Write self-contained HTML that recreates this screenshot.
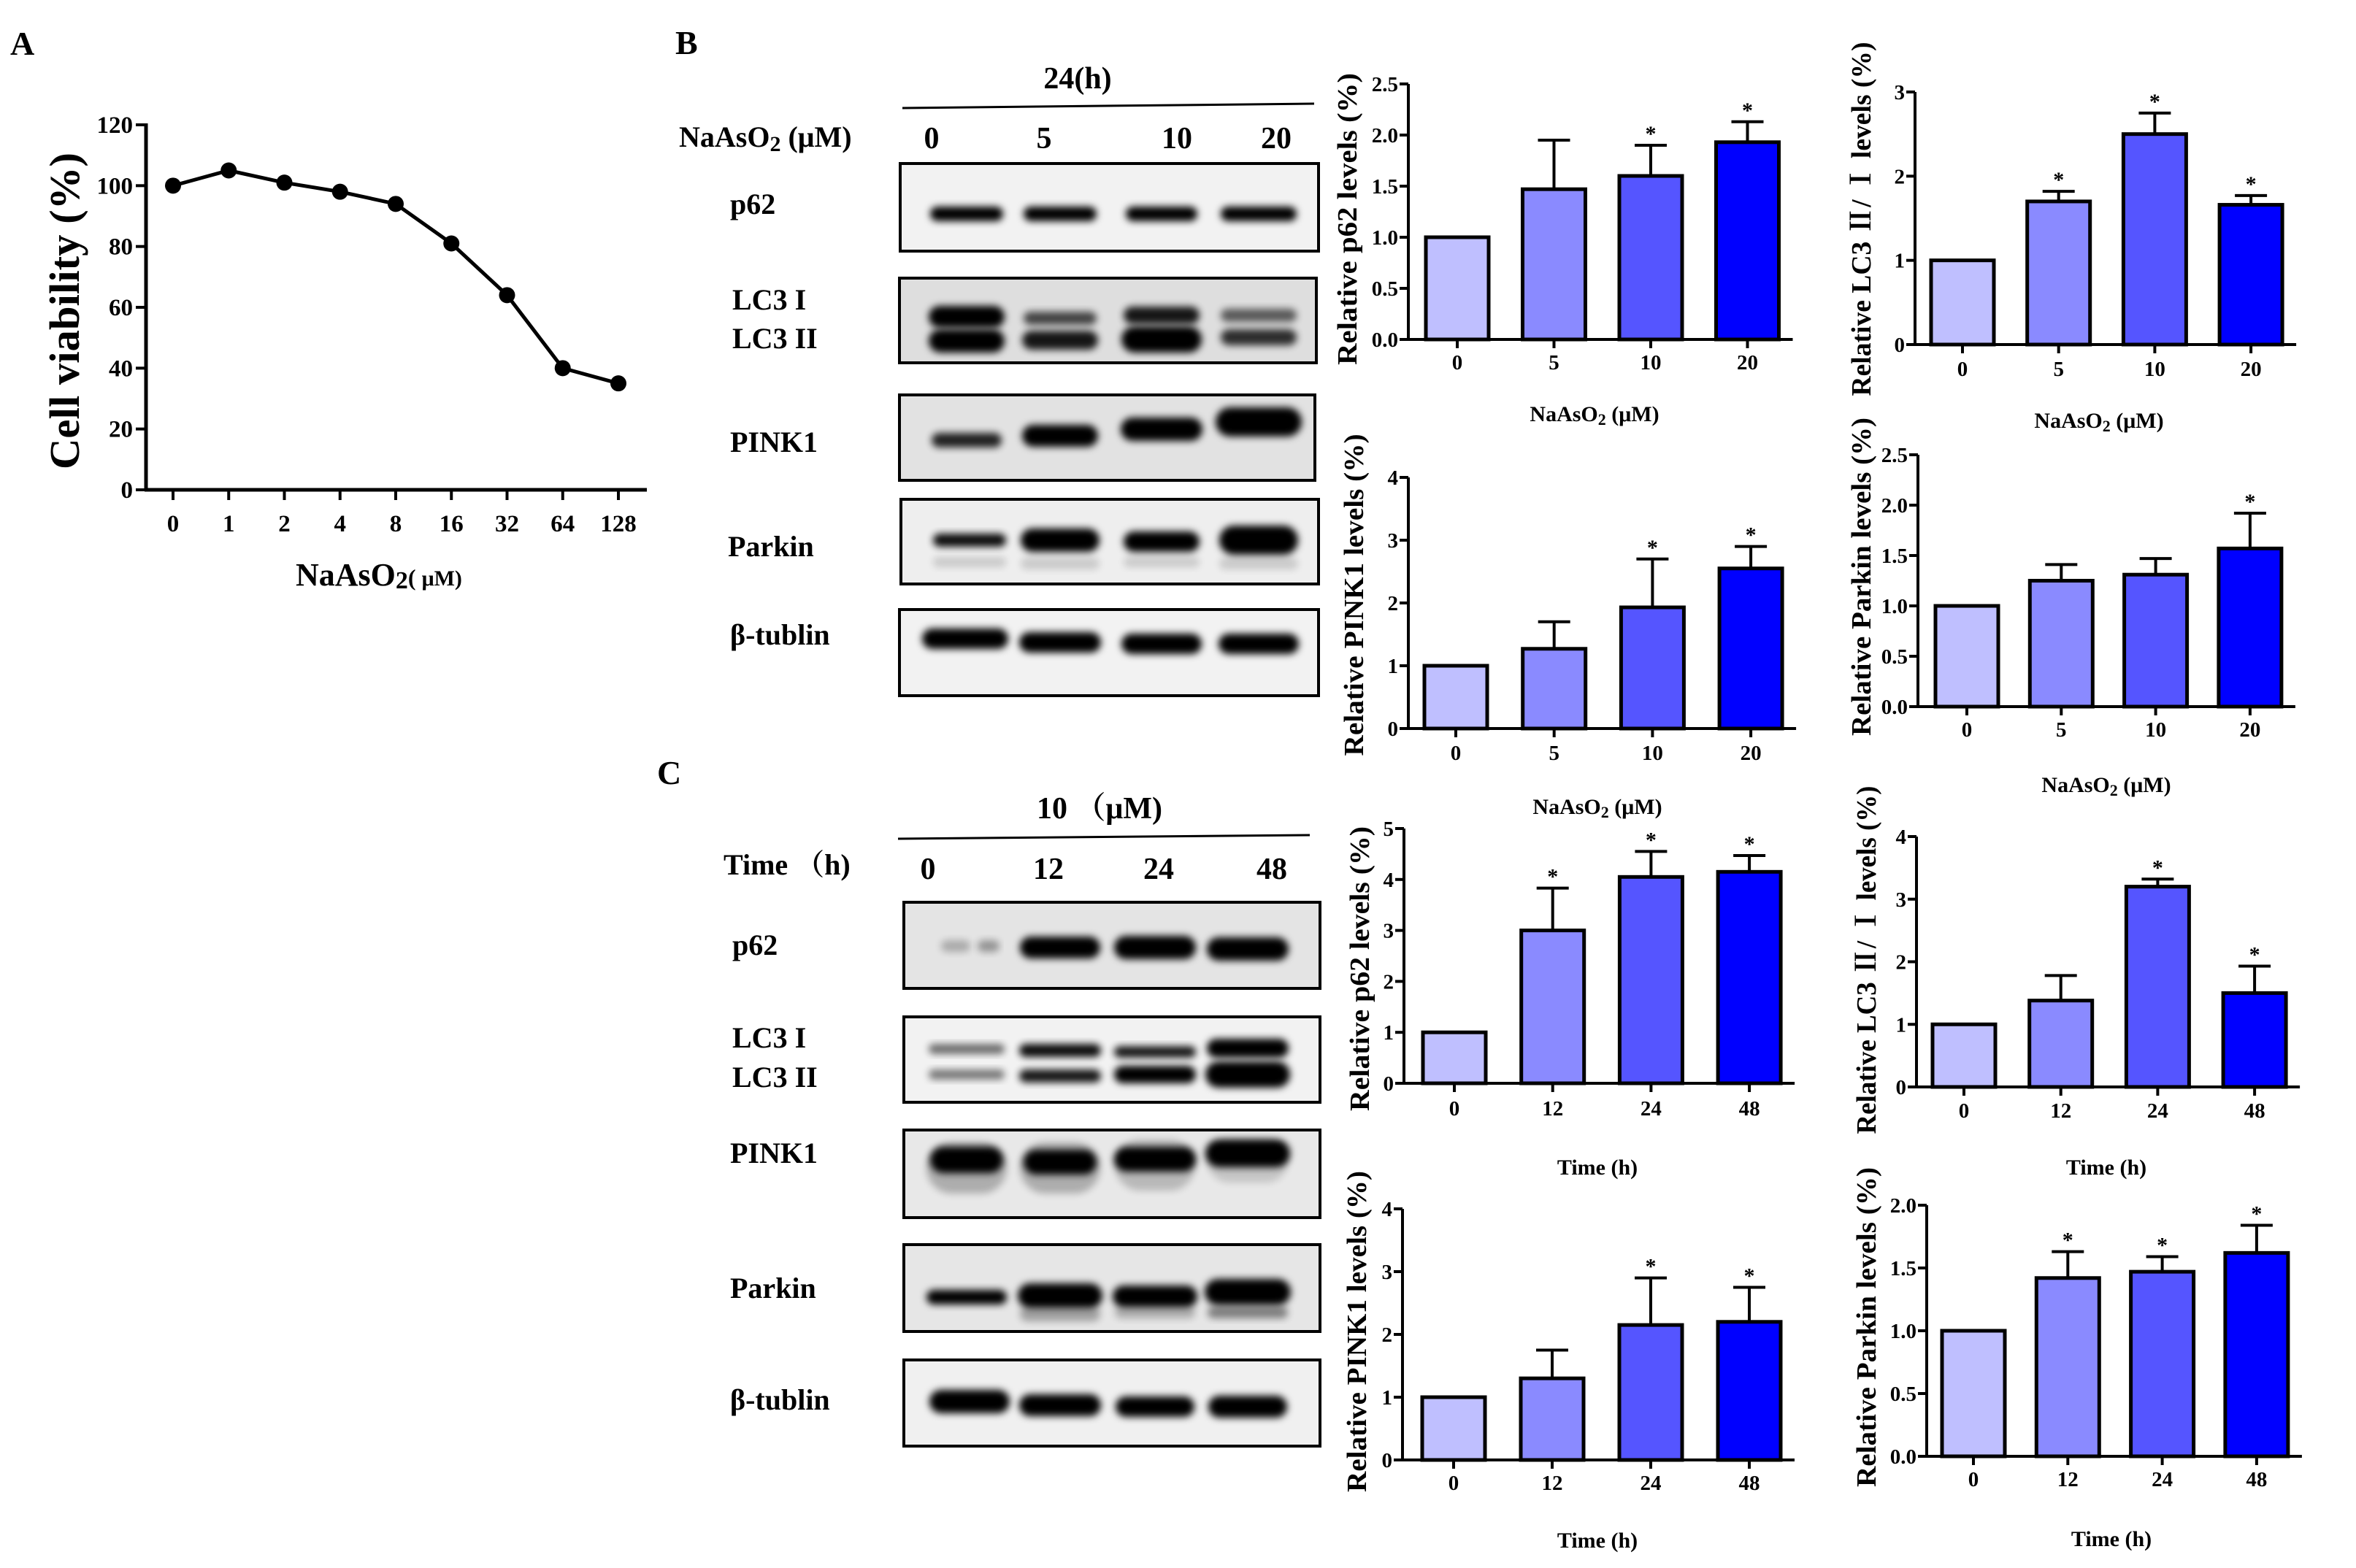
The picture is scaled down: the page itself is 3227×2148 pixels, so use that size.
<!DOCTYPE html>
<html><head><meta charset="utf-8">
<style>
html,body{margin:0;padding:0;background:#fff;}
svg{display:block;}
text{font-family:"Liberation Serif","Noto Serif CJK SC",serif;font-weight:bold;fill:#000;}
</style></head>
<body>
<svg id="fig" xmlns="http://www.w3.org/2000/svg" width="3227" height="2148" viewBox="0 0 3227 2148">
<defs>
<filter id="blur" x="-20%" y="-50%" width="140%" height="200%"><feGaussianBlur stdDeviation="5"/></filter>
<filter id="blur2" x="-20%" y="-80%" width="140%" height="260%"><feGaussianBlur stdDeviation="9"/></filter>
</defs>
<rect width="3227" height="2148" fill="#fff"/>
<text x="14" y="75" font-size="46">A</text>
<text x="925" y="74" font-size="46">B</text>
<text x="900" y="1074" font-size="46">C</text>
<g id="panelA"></g>
<g id="blots"></g>
<g id="bars"></g>
</svg>
<script>
// ---------- Panel A data ----------
const viabCats = ['0','1','2','4','8','16','32','64','128'];
const viabValues = [100,105,101,98,94,81,64,40,35];
const viabTicks = [0,20,40,60,80,100,120];

// ---------- Bar chart data ----------
const doseCats = ['0','5','10','20'];
const timeCats = ['0','12','24','48'];
const bP62Vals = [1.0,1.47,1.6,1.93];
const bP62Err  = [1.0,1.95,1.9,2.13];
const bP62Sig  = [0,0,1,1];
const bLc3Vals = [1.0,1.7,2.5,1.66];
const bLc3Err  = [1.0,1.82,2.75,1.77];
const bLc3Sig  = [0,1,1,1];
const bPinkVals = [1.0,1.27,1.93,2.55];
const bPinkErr  = [1.0,1.7,2.7,2.9];
const bPinkSig  = [0,0,1,1];
const bParkVals = [1.0,1.25,1.31,1.57];
const bParkErr  = [1.0,1.41,1.47,1.92];
const bParkSig  = [0,0,0,1];
const cP62Vals = [1.0,3.0,4.05,4.15];
const cP62Err  = [1.0,3.83,4.55,4.47];
const cP62Sig  = [0,1,1,1];
const cLc3Vals = [1.0,1.38,3.2,1.5];
const cLc3Err  = [1.0,1.78,3.32,1.93];
const cLc3Sig  = [0,0,1,1];
const cPinkVals = [1.0,1.3,2.15,2.2];
const cPinkErr  = [1.0,1.75,2.9,2.75];
const cPinkSig  = [0,0,1,1];
const cParkVals = [1.0,1.42,1.47,1.62];
const cParkErr  = [1.0,1.63,1.59,1.84];
const cParkSig  = [0,1,1,1];
const ticks25 = ['0.0','0.5','1.0','1.5','2.0','2.5'];
const ticks3 = ['0','1','2','3'];
const ticks4 = ['0','1','2','3','4'];
const ticks5 = ['0','1','2','3','4','5'];
const ticks20 = ['0.0','0.5','1.0','1.5','2.0'];

const NS = 'http://www.w3.org/2000/svg';
function mk(tag, attrs, parent, txt){
  const e = document.createElementNS(NS, tag);
  for (const k in attrs) e.setAttribute(k, attrs[k]);
  if (txt !== undefined) e.textContent = txt;
  parent.appendChild(e);
  return e;
}

// ---------- Panel A ----------
(function(){
  const g = document.getElementById('panelA');
  const axX = 200, yBot = 671, yTop = 171, vMax = 120;
  const xFirst = 237, xStep = 76.25;
  const yS = v => yBot - (v / vMax) * (yBot - yTop);
  const xS = i => xFirst + i * xStep;
  let e = mk('line',{x1:axX,y1:yTop-2,x2:axX,y2:yBot+2,stroke:'#000','stroke-width':5},g);
  
  
  e = mk('line',{x1:axX-2,y1:yBot,x2:886,y2:yBot,stroke:'#000','stroke-width':5},g);
  
  
  viabTicks.forEach(t=>{
    const y = yS(t);
    mk('line',{x1:axX-14,y1:y,x2:axX,y2:y,stroke:'#000','stroke-width':4},g);
    const tx = mk('text',{x:axX-18,y:y+11,'font-size':33,'text-anchor':'end'},g,String(t));
    
    
  });
  viabCats.forEach((c,i)=>{
    const x = xS(i);
    mk('line',{x1:x,y1:yBot,x2:x,y2:yBot+14,stroke:'#000','stroke-width':4},g);
    const tx = mk('text',{x:x,y:728,'font-size':33,'text-anchor':'middle'},g,c);
    
    
  });
  let d = '';
  viabValues.forEach((v,i)=>{ d += (i?'L':'M') + xS(i) + ' ' + yS(v) + ' '; });
  e = mk('path',{d:d,fill:'none',stroke:'#000','stroke-width':5},g);
  
  
  viabValues.forEach((v,i)=>{
    const c = mk('circle',{cx:xS(i),cy:yS(v),r:11,fill:'#000'},g);
    
    
  });
  e = mk('text',{x:0,y:0,'font-size':58,'text-anchor':'middle',transform:'translate(108,426) rotate(-90)',textLength:434,lengthAdjust:'spacingAndGlyphs'},g,'Cell viability (%)');
  
  
  e = mk('text',{x:405,y:802,'font-size':44},g);
  
  
  e.innerHTML = 'NaAsO<tspan font-size="34" dy="4">2</tspan><tspan dy="-4" font-size="32">( </tspan><tspan font-size="30">μM)</tspan>';
})();

// ---------- Western blots ----------
(function(){
  const g = document.getElementById('blots');
  function header(title, titleX, titleY, line, rowLabel, rowX, rowY, lanes, laneXs, laneY){
    let e = mk('text',{x:titleX,y:titleY,'font-size':42,'text-anchor':'middle'},g);
    e.innerHTML = title;
    
    
    mk('line',{x1:line[0],y1:line[1],x2:line[2],y2:line[3],stroke:'#000','stroke-width':3},g);
    e = mk('text',{x:rowX,y:rowY,'font-size':40},g);
    e.innerHTML = rowLabel;
    
    
    lanes.forEach((l,i)=>{
      const t = mk('text',{x:laneXs[i],y:laneY,'font-size':42,'text-anchor':'middle'},g,l);
      
      
    });
  }
  header('24(h)',1476,121,[1236,148,1800,142],'NaAsO<tspan font-size="30" dy="6">2</tspan><tspan dy="-6"> (μM)</tspan>',930,201,['0','5','10','20'],[1276,1430,1612,1748],203);
  header('10 （μM)',1506,1121,[1230,1149,1794,1144],'Time （h)',991,1198,['0','12','24','48'],[1271,1436,1587,1742],1204);

  function blot(name, label, labels, box, bg, bands){
    const gg = mk('g',{},g);
    
    
    mk('rect',{x:box[0],y:box[1],width:box[2]-box[0],height:box[3]-box[1],fill:bg},gg);
    bands.forEach(b=>{
      mk('rect',{x:b[0]-b[2]/2,y:b[1]-b[3]/2,width:b[2],height:b[3],rx:b[3]/2,fill:'#000',opacity:b[4],filter:'url(#blur)'},gg);
    });
    mk('rect',{x:box[0],y:box[1],width:box[2]-box[0],height:box[3]-box[1],fill:'none',stroke:'#000','stroke-width':4},gg);
    labels.forEach(l=>{
      const t = mk('text',{x:l[0],y:l[1],'font-size':40},gg,l[2]);
      
      
    });
  }
  const bl = [1324,1452,1591,1724];
  blot('blot-b-p62','p62',[[1000,293,'p62']],[1233,224,1806,344],'#f2f2f2',
    bl.map((x,i)=>[x,293,[100,100,98,104][i],20,1]));
  blot('blot-b-lc3','LC3',[[1003,424,'LC3 I'],[1003,477,'LC3 II']],[1232,381,1803,497],'#dedede',
    [[bl[0],434,104,30,1],[bl[1],436,100,18,0.7],[bl[2],432,104,24,0.9],[bl[3],432,104,18,0.6],
     [bl[0],467,104,32,1],[bl[1],466,104,26,0.9],[bl[2],465,110,36,1],[bl[3],462,104,22,0.8]]);
  blot('blot-b-pink1','PINK1',[[1000,619,'PINK1']],[1232,541,1801,658],'#e2e2e2',
    [[bl[0],603,96,20,0.85],[bl[1],597,104,30,1],[bl[2],588,112,32,1],[bl[3],578,118,40,1]]);
  blot('blot-b-parkin','Parkin',[[997,762,'Parkin']],[1234,684,1806,800],'#eeeeee',
    [[bl[0]+4,740,100,18,0.95],[bl[1],740,108,32,1],[bl[2],742,104,28,1],[bl[3],740,108,40,1],
     [bl[0]+4,770,100,14,0.15],[bl[1],772,108,16,0.15],[bl[2],770,104,14,0.15],[bl[3],772,108,16,0.15]]);
  blot('blot-b-tubulin','β-tublin',[[1000,883,'β-tublin']],[1232,835,1806,953],'#f2f2f2',
    bl.map((x,i)=>[x+[-2,0,0,0][i],[875,880,882,882][i],[118,112,110,110][i],28,1]));

  const cl = [1324,1452,1582,1709];
  blot('blot-c-p62','p62',[[1003,1308,'p62']],[1238,1236,1808,1354],'#e4e4e4',
    [[cl[0]-15,1296,40,16,0.25],[cl[0]+30,1296,30,16,0.35],[cl[1],1298,110,30,1],[cl[2],1298,112,32,1],[cl[3],1300,112,32,1]]);
  blot('blot-c-lc3','LC3',[[1003,1435,'LC3 I'],[1003,1489,'LC3 II']],[1238,1393,1808,1510],'#f2f2f2',
    [[cl[0],1437,104,14,0.55],[cl[1],1439,112,18,0.95],[cl[2],1441,112,16,0.9],[cl[3],1436,112,26,1],
     [cl[0],1472,104,14,0.5],[cl[1],1474,112,18,0.9],[cl[2],1472,112,24,1],[cl[3],1472,116,36,1]]);
  blot('blot-c-pink1','PINK1',[[1000,1593,'PINK1']],[1238,1548,1808,1668],'#e8e8e8',
    [[cl[0],1589,100,36,1],[cl[1],1592,100,34,1],[cl[2],1588,112,34,1],[cl[3],1580,116,38,1],
     [cl[0],1600,110,70,0.25],[cl[1],1600,110,70,0.25],[cl[2],1596,110,70,0.2],[cl[3],1590,110,60,0.15]]);
  blot('blot-c-parkin','Parkin',[[1000,1778,'Parkin']],[1238,1705,1808,1824],'#e6e6e6',
    [[cl[0],1777,110,20,1],[cl[1],1775,116,34,1],[cl[2],1776,116,30,1],[cl[3],1770,118,36,1],
     [cl[1],1800,110,20,0.3],[cl[2],1798,110,16,0.25],[cl[3],1798,110,16,0.45]]);
  blot('blot-c-tubulin','β-tublin',[[1000,1931,'β-tublin']],[1238,1863,1808,1981],'#f0f0f0',
    [[cl[0]+4,1920,110,32,1],[cl[1],1925,112,30,1],[cl[2],1927,108,28,1],[cl[3],1927,108,30,1]]);
})();

// ---------- Bar charts ----------
const barColors = ['#bfbfff','#8a8aff','#5555ff','#0000ff'];
function barChart(o, cats, vals, errs, sig, tickLabels){
  const g = mk('g',{},document.getElementById('bars'));
  
  
  const vMax = parseFloat(tickLabels[tickLabels.length-1]);
  const yS = v => o.yBot - (v / vMax) * (o.yBot - o.yTop);
  const xS = i => o.x0 + i * o.dx;
  const bw = 86;
  tickLabels.forEach(t=>{
    const y = yS(parseFloat(t));
    mk('line',{x1:o.axX-12,y1:y,x2:o.axX,y2:y,stroke:'#000','stroke-width':4},g);
    const tx = mk('text',{x:o.axX-14,y:y+10,'font-size':29,'text-anchor':'end'},g,t);
    
    
  });
  vals.forEach((v,i)=>{
    const x = xS(i), top = yS(v), et = yS(errs[i]);
    if (errs[i] > v) {
      mk('line',{x1:x,y1:top,x2:x,y2:et,stroke:'#000','stroke-width':4},g);
      mk('line',{x1:x-22,y1:et,x2:x+22,y2:et,stroke:'#000','stroke-width':4},g);
    }
    const r = mk('rect',{x:x-bw/2,y:top,width:bw,height:o.yBot-top,fill:barColors[i],stroke:'#000','stroke-width':5},g);
    
    
    if (sig[i]) {
      const s = mk('text',{x:x,y:et-6,'font-size':30,'text-anchor':'middle'},g,'*');
      
      
    }
    mk('line',{x1:x,y1:o.yBot,x2:x,y2:o.yBot+12,stroke:'#000','stroke-width':4},g);
    const tx = mk('text',{x:x,y:o.labY,'font-size':29,'text-anchor':'middle'},g,cats[i]);
    
    
  });
  let e = mk('line',{x1:o.axX,y1:o.yTop,x2:o.axX,y2:o.yBot+2,stroke:'#000','stroke-width':4},g);
  
  
  e = mk('line',{x1:o.axX-10,y1:o.yBot,x2:xS(3)+62,y2:o.yBot,stroke:'#000','stroke-width':4},g);
  
  
  e = mk('text',{x:0,y:0,'font-size':38,'text-anchor':'middle',transform:'translate('+(o.ytX+13)+','+o.ytY+') rotate(-90)',textLength:o.ytLen,lengthAdjust:'spacingAndGlyphs'},g,o.ytitle);
  
  
  e = mk('text',{x:o.tX,y:o.tY,'font-size':30,'text-anchor':'middle'},g);
  
  
  e.innerHTML = o.xtitle;
}
const naTitle = 'NaAsO<tspan font-size="22" dy="5">2</tspan><tspan dy="-5"> (μM)</tspan>';
barChart({name:'chart-b-p62',axX:1929,yBot:465,yTop:115,x0:1996,dx:132.5,labY:506,tX:2184,tY:577,xtitle:naTitle,ytitle:'Relative p62 levels (%)',ytX:1845,ytY:300,ytLen:400},doseCats,bP62Vals,bP62Err,bP62Sig,ticks25);
barChart({name:'chart-b-lc3',axX:2623,yBot:472,yTop:126,x0:2688,dx:131.7,labY:515,tX:2875,tY:586,xtitle:naTitle,ytitle:'Relative LC3 Ⅱ/ Ⅰ levels (%)',ytX:2549,ytY:300,ytLen:485},doseCats,bLc3Vals,bLc3Err,bLc3Sig,ticks3);
barChart({name:'chart-b-pink1',axX:1929,yBot:998,yTop:654,x0:1994,dx:134.7,labY:1041,tX:2188,tY:1115,xtitle:naTitle,ytitle:'Relative PINK1 levels (%)',ytX:1854,ytY:815,ytLen:441},doseCats,bPinkVals,bPinkErr,bPinkSig,ticks4);
barChart({name:'chart-b-parkin',axX:2627,yBot:968,yTop:623,x0:2694,dx:129.3,labY:1009,tX:2885,tY:1085,xtitle:naTitle,ytitle:'Relative Parkin levels (%)',ytX:2549,ytY:790,ytLen:436},doseCats,bParkVals,bParkErr,bParkSig,ticks25);
barChart({name:'chart-c-p62',axX:1923,yBot:1484,yTop:1135,x0:1992,dx:134.7,labY:1528,tX:2188,tY:1609,xtitle:'Time (h)',ytitle:'Relative p62 levels (%)',ytX:1862,ytY:1327,ytLen:390},timeCats,cP62Vals,cP62Err,cP62Sig,ticks5);
barChart({name:'chart-c-lc3',axX:2625,yBot:1489,yTop:1146,x0:2690,dx:132.7,labY:1531,tX:2885,tY:1609,xtitle:'Time (h)',ytitle:'Relative LC3 Ⅱ/ Ⅰ levels (%)',ytX:2556,ytY:1315,ytLen:477},timeCats,cLc3Vals,cLc3Err,cLc3Sig,ticks4);
barChart({name:'chart-c-pink1',axX:1921,yBot:2000,yTop:1656,x0:1991,dx:135,labY:2041,tX:2188,tY:2120,xtitle:'Time (h)',ytitle:'Relative PINK1 levels (%)',ytX:1858,ytY:1824,ytLen:440},timeCats,cPinkVals,cPinkErr,cPinkSig,ticks4);
barChart({name:'chart-c-parkin',axX:2639,yBot:1995,yTop:1651,x0:2703,dx:129.3,labY:2036,tX:2892,tY:2118,xtitle:'Time (h)',ytitle:'Relative Parkin levels (%)',ytX:2556,ytY:1818,ytLen:438},timeCats,cParkVals,cParkErr,cParkSig,ticks20);
</script>
</body></html>
